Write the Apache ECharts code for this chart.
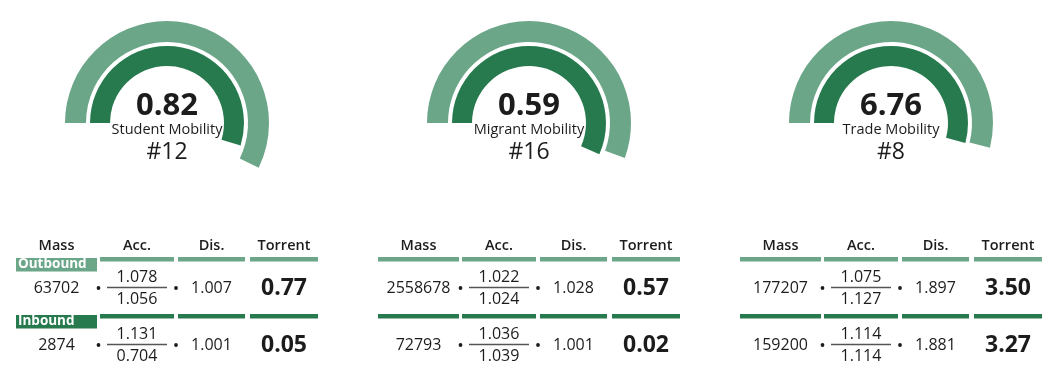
<!DOCTYPE html>
<html><head><meta charset="utf-8">
<script src="https://cdn.jsdelivr.net/npm/echarts@6/dist/echarts.min.js"></script>
<style>html,body{margin:0;padding:0;background:#fff}#c{width:1048px;height:376px}</style>
</head><body><div id="c"></div>
<script>
// ---- data ----
const scores = [0.82, 0.59, 6.76];
const mobilityNames = ['Student Mobility', 'Migrant Mobility', 'Trade Mobility'];
const ranks = [12, 16, 8];
// arc sweeps in degrees (clockwise from the left horizontal)
const outerArc = [206, 200, 194];
const innerArc = [197, 204, 195];
const headers = ['Mass', 'Acc.', 'Dis.', 'Torrent'];
const rowLabels = ['Outbound', 'Inbound'];
const massOut = [63702, 2558678, 177207];
const massIn = [2874, 72793, 159200];
const accNumOut = [1.078, 1.022, 1.075];
const accDenOut = [1.056, 1.024, 1.127];
const accNumIn = [1.131, 1.036, 1.114];
const accDenIn = [0.704, 1.039, 1.114];
const disOut = [1.007, 1.028, 1.897];
const disIn = [1.001, 1.001, 1.881];
const torrentOut = [0.77, 0.57, 3.50];
const torrentIn = [0.05, 0.02, 3.27];

// ---- style / layout ----
const LIGHT = '#6ba688', DARK = '#267a4e', TXT = '#1c1c1c';
const FONT = '"Open Sans", sans-serif';
const centers = [167, 529, 891];
const CY = 123;
// column spans relative to table left edge
const cols = [[0, 81], [84, 158], [162, 229], [234, 302]];

const chart = echarts.init(document.getElementById('c'), null, {renderer: 'canvas'});
const series = [];
function gauge(cx, radius, width, value, color) {
  return {
    type: 'gauge', center: [cx, CY], radius: radius, startAngle: 180, endAngle: -180,
    min: 0, max: 360, animation: false, silent: true,
    progress: {show: true, width: width, roundCap: false, itemStyle: {color: color}},
    axisLine: {show: false}, axisTick: {show: false}, splitLine: {show: false},
    axisLabel: {show: false}, pointer: {show: false}, anchor: {show: false},
    title: {show: false}, detail: {show: false},
    data: [{value: value}]
  };
}
for (let i = 0; i < 3; i++) {
  series.push(gauge(centers[i], 102, 21, outerArc[i], LIGHT));
  series.push(gauge(centers[i], 77, 20, innerArc[i], DARK));
}

const g = [];
function txt(x, y, text, size, weight, color, align) {
  g.push({type: 'text', silent: true, style: {
    text: String(text), x: x, y: y, font: (weight || 'normal') + ' ' + size + 'px ' + FONT,
    fill: color || TXT, align: align || 'center', verticalAlign: 'middle',
    textAlign: align || 'center', textVerticalAlign: 'middle'}});
}
function rect(x, y, w, h, color) {
  g.push({type: 'rect', silent: true, shape: {x: x, y: y, width: w, height: h}, style: {fill: color}});
}
function dot(x, y) {
  g.push({type: 'circle', silent: true, shape: {cx: x, cy: y, r: 1.9}, style: {fill: TXT}});
}

for (let i = 0; i < 3; i++) {
  const cx = centers[i];
  txt(cx, 106, scores[i].toFixed(2), 31, 'bold');
  txt(cx, 130, mobilityNames[i], 14.5, 'normal');
  txt(cx, 152, '#' + ranks[i], 23, 'normal');

  const x0 = cx - 151;
  const colC = cols.map(c => x0 + (c[0] + c[1]) / 2);
  headers.forEach((h, k) => txt(colC[k], 246, h, 14.5, '600'));

  const rows = [
    {y: 288, barY: 257, color: LIGHT, mass: massOut[i], num: accNumOut[i], den: accDenOut[i], dis: disOut[i], tor: torrentOut[i]},
    {y: 345, barY: 314, color: DARK, mass: massIn[i], num: accNumIn[i], den: accDenIn[i], dis: disIn[i], tor: torrentIn[i]}
  ];
  rows.forEach((r, ri) => {
    cols.forEach((c, k) => {
      if (i === 0 && k === 0) {
        rect(x0 + c[0], r.barY + 1, c[1] - c[0], 13.5, r.color);
        txt(x0 + c[0] + 2, r.barY + 7.5, rowLabels[ri], 13.5, 'bold', '#ffffff', 'left');
      } else {
        rect(x0 + c[0], r.barY, c[1] - c[0], 4.5, r.color);
      }
    });
    txt(colC[0], r.y, r.mass, 16, 'normal');
    dot(x0 + 82.5, r.y);
    txt(colC[1], r.y - 10.5, r.num.toFixed(3), 16, 'normal');
    txt(colC[1], r.y + 11.5, r.den.toFixed(3), 16, 'normal');
    g.push({type: 'line', silent: true, shape: {x1: colC[1] - 30, y1: r.y - 0.5, x2: colC[1] + 30, y2: r.y - 0.5},
      style: {stroke: '#555555', lineWidth: 1.5}});
    dot(x0 + 160, r.y);
    txt(colC[2], r.y, r.dis.toFixed(3), 16, 'normal');
    txt(colC[3], r.y, r.tor.toFixed(2), 23, 'bold');
  });
}

chart.setOption({animation: false, series: series, graphic: {elements: g}});
</script></body></html>
